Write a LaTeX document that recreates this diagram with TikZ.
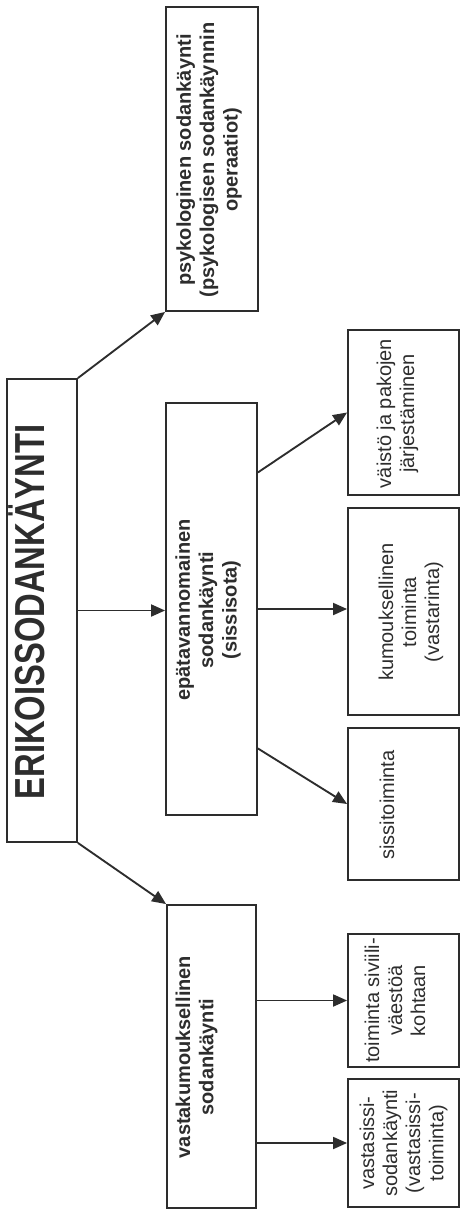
\documentclass[tikz,border=0pt]{standalone}
\usepackage{fontspec}
\setmainfont{Liberation Sans}
\usetikzlibrary{arrows.meta,calc}
\definecolor{ink}{RGB}{45,45,45}
\newcommand\bodyfnt{\fontsize{15pt}{17.3pt}\selectfont}
\newcommand\boldfnt{\fontsize{15pt}{17.5pt}\selectfont\bfseries}
\newcommand\titlefnt{\fontsize{31.5pt}{34pt}\selectfont\bfseries}
\begin{document}
\begin{tikzpicture}[x=0.75pt,y=-0.75pt,
  box/.style={draw=ink, line width=1.4pt, inner sep=0pt, minimum width=#1},
  box/.default=83.25pt,
  txt/.style={rotate=90, inner sep=0pt, align=center, text=ink, font=\bodyfnt},
  btxt/.style={rotate=90, inner sep=0pt, align=center, text=ink, font=\boldfnt},
  conn/.style={draw=ink, line width=1.4pt, -{Triangle[length=10.5pt,width=9pt]}}]
\useasboundingbox[fill=white] (0,0) rectangle (461,1211);

% boxes
\node[box=52.5pt, minimum height=347.25pt] (root) at (42,610.5) {};
\node[box=69pt, minimum height=228pt] (psyk) at (212,159) {};
\node[box=68.25pt, minimum height=309pt] (epa) at (211.5,609) {};
\node[box=66.75pt, minimum height=227.25pt] (vkum) at (211.5,1056.5) {};
\node[box, minimum height=123.75pt] (vaisto) at (403.5,412.5) {};
\node[box, minimum height=155.25pt] (kum) at (403.5,611.5) {};
\node[box, minimum height=114pt] (sissi) at (403.5,804) {};
\node[box, minimum height=99.75pt] (sivi) at (403.5,1000.5) {};
\node[box, minimum height=96pt] (vsissi) at (403.5,1143) {};

% texts
\node[rotate=90, inner sep=0pt, text=ink, anchor=base, font=\titlefnt] (title) at (45,612) {\scalebox{0.78}[1]{ERIKOISSODANKÄYNTI}};
\node[btxt] (psyk-t) at (209,160) {psykologinen sodankäynti\\(psykologisen sodankäynnin\\operaatiot)};
\node[btxt] (epa-t) at (208,610) {epätavannomainen\\sodankäynti\\(sissisota)};
\node[btxt] (vkum-t) at (196.5,1057) {vastakumouksellinen\\sodankäynti};
\node[txt] (vaisto-t) at (397.5,413.5) {väistö ja pakojen\\järjestäminen};
\node[txt] (kum-t) at (411,612) {kumouksellinen\\toiminta\\(vastarinta)};
\node[txt] (sissi-t) at (387,805) {sissitoiminta};
\node[txt] (sivi-t) at (395,1000.5) {toiminta siviili-\\väestöä\\kohtaan};
\node[txt] (vsissi-t) at (403.5,1143) {vastasissi-\\sodankäynti\\(vastasissi-\\toiminta)};

% connectors
\draw[conn] (root.north east) -- (psyk.south west);
\draw[conn] (root.east) -- (root.east -| epa.west);
\draw[conn] (root.south east) -- (vkum.north west);
\draw[conn] ($(epa.north east)!0.17!(epa.south east)$) -- (vaisto.west);
\draw[conn] (epa.east) -- (epa.east -| kum.west);
\draw[conn] ($(epa.north east)!0.837!(epa.south east)$) -- (sissi.west);
\draw[conn] (sivi.west -| vkum.east) -- (sivi.west);
\draw[conn] (vsissi.west -| vkum.east) -- (vsissi.west);
\end{tikzpicture}
\end{document}
